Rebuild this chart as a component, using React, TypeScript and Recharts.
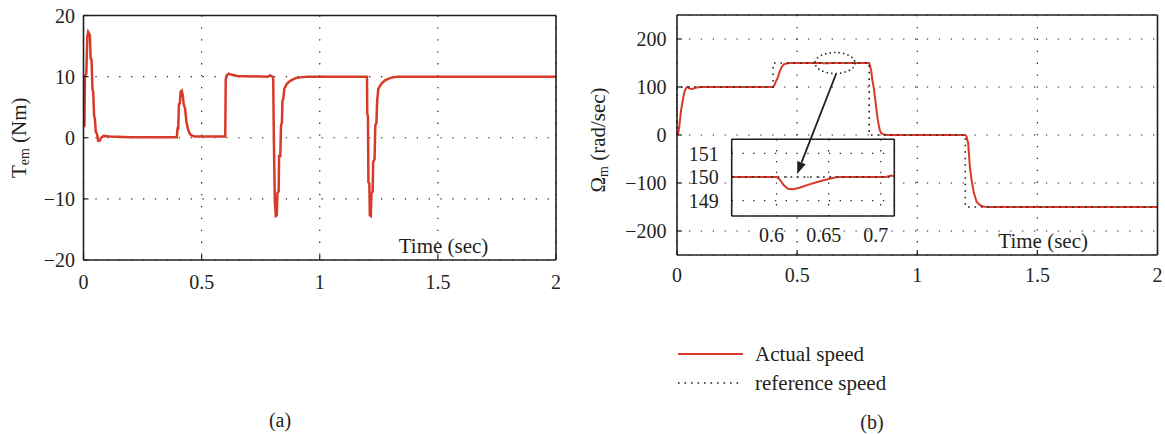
import React from 'react';
import { LineChart, Line, XAxis, YAxis, CartesianGrid, ReferenceDot, ReferenceLine } from 'recharts';

// ---------- data ----------
const torqueT = [0, 0.004, 0.006, 0.012, 0.016, 0.02, 0.027, 0.03, 0.034, 0.038, 0.041, 0.045, 0.048, 0.052, 0.058, 0.062, 0.068, 0.075, 0.085, 0.11, 0.2, 0.395, 0.398, 0.401, 0.404, 0.408, 0.411, 0.416, 0.42, 0.424, 0.43, 0.436, 0.442, 0.448, 0.455, 0.47, 0.6, 0.602, 0.606, 0.615, 0.628, 0.65, 0.78, 0.79, 0.8, 0.803, 0.806, 0.81, 0.814, 0.818, 0.821, 0.826, 0.828, 0.833, 0.836, 0.84, 0.842, 0.846, 0.85, 0.86, 0.875, 0.9, 0.95, 1.2, 1.201, 1.204, 1.206, 1.21, 1.212, 1.216, 1.219, 1.224, 1.226, 1.232, 1.235, 1.24, 1.243, 1.248, 1.26, 1.276, 1.3, 1.33, 2];
const torqueV = [1.8, 2, 10, 10.5, 16.5, 17.3, 16.8, 13, 12.8, 8, 7.5, 3.5, 3.2, 1, 0.5, -0.5, -0.5, 0, 0.3, 0.2, 0.1, 0.1, 1.5, 1.5, 5.5, 5.6, 7.5, 7.7, 7, 5.5, 4.8, 2.5, 1.5, 0.8, 0.4, 0.2, 0.2, 9.5, 10.2, 10.5, 10.3, 10.1, 10, 10.2, 10, 9.6, -1, -10.5, -12.8, -12.7, -9, -8.8, -3, -3, 2, 2.5, 6, 6.5, 8, 8.8, 9.3, 9.8, 10, 10, 4, 3.5, -7.3, -7.5, -12.7, -12.8, -9, -8.8, -4, -3.5, 2, 2.5, 6, 8, 8.8, 9.4, 9.8, 10, 10];

const speedT = [0, 0.005, 0.01, 0.017, 0.025, 0.031, 0.038, 0.044, 0.05, 0.06, 0.07, 0.08, 0.1, 0.4, 0.405, 0.412, 0.42, 0.428, 0.436, 0.445, 0.455, 0.47, 0.6, 0.603, 0.607, 0.611, 0.616, 0.622, 0.63, 0.64, 0.65, 0.658, 0.705, 0.71, 0.713, 0.8, 0.803, 0.808, 0.813, 0.82, 0.826, 0.832, 0.838, 0.844, 0.85, 0.86, 0.878, 1.2, 1.205, 1.212, 1.219, 1.226, 1.236, 1.247, 1.261, 1.275, 1.29, 2];
const speedV = [0, 3, 20, 52, 75, 90, 98, 100, 97, 96, 97, 99, 100, 100, 103, 112, 120, 133, 142, 147, 149, 150, 150, 149.9, 149.65, 149.5, 149.48, 149.55, 149.67, 149.8, 149.92, 150, 150, 150.06, 150.04, 150, 145, 135, 115, 95, 70, 45, 25, 10, 4, 1, 0, 0, -3, -17, -66, -94, -121, -139, -146, -149, -150, -150];

const refT = [0, 0, 0.4, 0.4, 0.8, 0.8, 1.2, 1.2, 2];
const refV = [0, 100, 100, 150, 150, 0, 0, -150, -150];

const timeTicks = [0, 0.5, 1, 1.5, 2];
const torqueTicks = [-20, -10, 0, 10, 20];
const speedTicks = [-200, -100, 0, 100, 200];
const insetTimeTicks = [0.6, 0.65, 0.7];
const insetSpeedTicks = [149, 150, 151];

const seriesNames = ['Actual speed', 'reference speed'];
const captions = ['(a)', '(b)'];

const torqueData = torqueT.map((t, i) => ({ t, v: torqueV[i] }));
const speedData = speedT.map((t, i) => ({ t, v: speedV[i] }));
const refData = refT.map((t, i) => ({ t, v: refV[i] }));

// ---------- style ----------
const FONT = "'Liberation Serif', 'DejaVu Serif', serif";
const INK = '#231f20';
const RED = '#d83a2a';
const GRID_DASH = '1.3 10.6';
const REF_DASH = '1.6 4.9';
const tickStyle = { fill: INK, fontSize: 20, fontFamily: FONT };
const insetXTickStyle = { fill: INK, fontSize: 20, fontFamily: FONT, dx: -5 };
const fmt = (v: number) => String(v).replace('-', '\u2212');
const axisLine = { stroke: INK, strokeWidth: 1.6 };
const tickLine = { stroke: INK, strokeWidth: 1.2 };

const TimeLabel = (props: any) => {
  const vb = props.viewBox;
  return (
    <text x={vb.x + vb.width * 0.762} y={vb.y - 7.5} textAnchor="middle" fill={INK} fontSize={21} fontFamily={FONT}>
      Time (sec)
    </text>
  );
};

const makeYLabel = (main: string, sub: string, rest: string, dx: number, dy: number) => (props: any) => {
  const vb = props.viewBox;
  const cx = vb.x + vb.width - dx;
  const cy = vb.y + vb.height / 2 + dy;
  return (
    <text transform={`rotate(-90 ${cx} ${cy})`} x={cx} y={cy} textAnchor="middle" dominantBaseline="central" fill={INK} fontSize={21} fontFamily={FONT}>
      <tspan>{main}</tspan>
      <tspan dy={5} fontSize={14}>{sub}</tspan>
      <tspan dy={-5}>{rest}</tspan>
    </text>
  );
};

const Ellipse = (props: any) => (
  <ellipse cx={props.cx} cy={props.cy} rx={20} ry={10.5} fill="none" stroke={INK} strokeWidth={1.5} strokeDasharray="1.5 3" />
);

const Arrow = (props: any) => {
  const { x1, y1, x2, y2 } = props;
  const dx = x2 - x1, dy = y2 - y1;
  const len = Math.sqrt(dx * dx + dy * dy) || 1;
  const ux = dx / len, uy = dy / len;
  const hl = 12, hw = 4.5;
  const bx = x2 - ux * hl, by = y2 - uy * hl;
  return (
    <g>
      <line x1={x1} y1={y1} x2={bx} y2={by} stroke={INK} strokeWidth={1.8} />
      <polygon points={`${x2},${y2} ${bx - uy * hw},${by + ux * hw} ${bx + uy * hw},${by - ux * hw}`} fill={INK} />
    </g>
  );
};

const abs: React.CSSProperties = { position: 'absolute', left: 0, top: 0 };

function TorqueChart() {
  return (
    <div style={abs}>
      <LineChart width={600} height={300} margin={{ top: 15.5, left: 82.5, right: 44, bottom: 39 }}>
        <CartesianGrid stroke={INK} strokeWidth={1.2} strokeDasharray={GRID_DASH} />
        <XAxis type="number" dataKey="t" domain={[0, 2]} ticks={timeTicks} interval={0} height={1} axisLine={axisLine} tickLine={tickLine} tickSize={-5} tickMargin={20} tick={tickStyle} tickFormatter={fmt} label={{ content: TimeLabel }} />
        <XAxis xAxisId="top" orientation="top" type="number" dataKey="t" domain={[0, 2]} ticks={timeTicks} interval={0} height={1} mirror axisLine={axisLine} tickLine={tickLine} tickSize={5} tick={false} />
        <YAxis type="number" domain={[-20, 20]} ticks={torqueTicks} interval={0} width={1} axisLine={axisLine} tickLine={tickLine} tickSize={-5} tickMargin={13.5} tick={tickStyle} tickFormatter={fmt} label={{ content: makeYLabel('T', 'em', ' (Nm)', 64.5, 0) }} />
        <YAxis yAxisId="right" orientation="right" type="number" domain={[-20, 20]} ticks={torqueTicks} interval={0} width={1} mirror axisLine={axisLine} tickLine={tickLine} tickSize={5} tick={false} />
        <Line data={torqueData} dataKey="v" type="linear" stroke={RED} strokeWidth={2.5} dot={false} isAnimationActive={false} />
      </LineChart>
    </div>
  );
}

function SpeedChart() {
  return (
    <div style={abs}>
      <LineChart width={1165} height={300} margin={{ top: 15, left: 676, right: 7.5, bottom: 44 }}>
        <CartesianGrid stroke={INK} strokeWidth={1.2} strokeDasharray={GRID_DASH} />
        <XAxis type="number" dataKey="t" domain={[0, 2]} ticks={timeTicks} interval={0} height={1} axisLine={axisLine} tickLine={tickLine} tickSize={-5} tickMargin={18} tick={tickStyle} tickFormatter={fmt} label={{ content: TimeLabel }} />
        <XAxis xAxisId="top" orientation="top" type="number" dataKey="t" domain={[0, 2]} ticks={timeTicks} interval={0} height={1} mirror axisLine={axisLine} tickLine={tickLine} tickSize={5} tick={false} />
        <YAxis type="number" domain={[-250, 250]} ticks={speedTicks} interval={0} width={1} axisLine={axisLine} tickLine={tickLine} tickSize={-5} tickMargin={15.5} tick={tickStyle} tickFormatter={fmt} label={{ content: makeYLabel('\u03A9', 'm', '  (rad/sec)', 79, 5) }} />
        <YAxis yAxisId="right" orientation="right" type="number" domain={[-250, 250]} ticks={speedTicks} interval={0} width={1} mirror axisLine={axisLine} tickLine={tickLine} tickSize={5} tick={false} />
        <Line data={speedData} name={seriesNames[0]} dataKey="v" type="linear" stroke={RED} strokeWidth={2} dot={false} isAnimationActive={false} />
        <Line data={refData} name={seriesNames[1]} dataKey="v" type="linear" stroke={INK} strokeWidth={1.6} strokeDasharray={REF_DASH} dot={false} isAnimationActive={false} />
      </LineChart>
    </div>
  );
}

function InsetChart() {
  const insetDomainX: [number, number] = [0.557, 0.713];
  const insetDomainY: [number, number] = [148.35, 151.6];
  return (
    <div style={abs}>
      <LineChart width={1165} height={300} margin={{ top: 139.3, left: 730.7, right: 270.7, bottom: 83 }}>
        <CartesianGrid stroke={INK} strokeWidth={1.2} strokeDasharray="1.3 9.5" fill="#ffffff" fillOpacity={1} />
        <XAxis type="number" dataKey="t" domain={insetDomainX} allowDataOverflow ticks={insetTimeTicks} interval={0} height={1} axisLine={axisLine} tickLine={false} tickSize={0} tickMargin={12} tick={insetXTickStyle} tickFormatter={fmt} />
        <XAxis xAxisId="top" orientation="top" type="number" dataKey="t" domain={insetDomainX} allowDataOverflow ticks={insetTimeTicks} interval={0} height={1} mirror axisLine={axisLine} tickLine={false} tick={false} />
        <YAxis type="number" domain={insetDomainY} allowDataOverflow ticks={insetSpeedTicks} interval={0} width={1} axisLine={axisLine} tickLine={false} tickSize={0} tickMargin={13} tick={tickStyle} tickFormatter={fmt} />
        <YAxis yAxisId="right" orientation="right" type="number" domain={insetDomainY} allowDataOverflow ticks={insetSpeedTicks} interval={0} width={1} mirror axisLine={axisLine} tickLine={false} tick={false} />
        <Line data={speedData} dataKey="v" type="linear" stroke={RED} strokeWidth={2} dot={false} isAnimationActive={false} />
        <Line data={refData} dataKey="v" type="linear" stroke={INK} strokeWidth={1.6} strokeDasharray={REF_DASH} dot={false} isAnimationActive={false} />
      </LineChart>
    </div>
  );
}

function AnnotationChart() {
  return (
    <div style={{ ...abs, pointerEvents: 'none' }}>
      <LineChart width={1165} height={300} margin={{ top: 15, left: 677, right: 7.5, bottom: 45 }}>
        <XAxis type="number" dataKey="t" domain={[0, 2]} hide />
        <YAxis type="number" domain={[-250, 250]} hide />
        <Line data={refData} dataKey="v" stroke="none" dot={false} isAnimationActive={false} />
        <ReferenceDot x={0.658} y={150} r={1} ifOverflow="visible" shape={Ellipse} />
        <ReferenceLine segment={[{ x: 0.662, y: 127 }, { x: 0.5, y: -81 }]} ifOverflow="visible" shape={Arrow} />
      </LineChart>
    </div>
  );
}

function Overlay() {
  return (
    <svg width={1165} height={434} style={{ ...abs, pointerEvents: 'none' }}>
      <g fontFamily={FONT} fontSize={21} fill={INK}>
        <line x1={678} y1={354} x2={743} y2={354} stroke={RED} strokeWidth={2} />
        <text x={755} y={354} dominantBaseline="central">{seriesNames[0]}</text>
        <line x1={678} y1={383} x2={743} y2={383} stroke={INK} strokeWidth={1.6} strokeDasharray={REF_DASH} />
        <text x={755} y={383} dominantBaseline="central">{seriesNames[1]}</text>
        <text x={280} y={420} textAnchor="middle" dominantBaseline="central" fontSize={20}>{captions[0]}</text>
        <text x={872} y={422} textAnchor="middle" dominantBaseline="central" fontSize={20}>{captions[1]}</text>
      </g>
    </svg>
  );
}

export default function App() {
  return (
    <div style={{ position: 'absolute', left: 0, top: 0, width: 1165, height: 434, background: '#ffffff', overflow: 'hidden' }}>
      <TorqueChart />
      <SpeedChart />
      <InsetChart />
      <AnnotationChart />
      <Overlay />
    </div>
  );
}
